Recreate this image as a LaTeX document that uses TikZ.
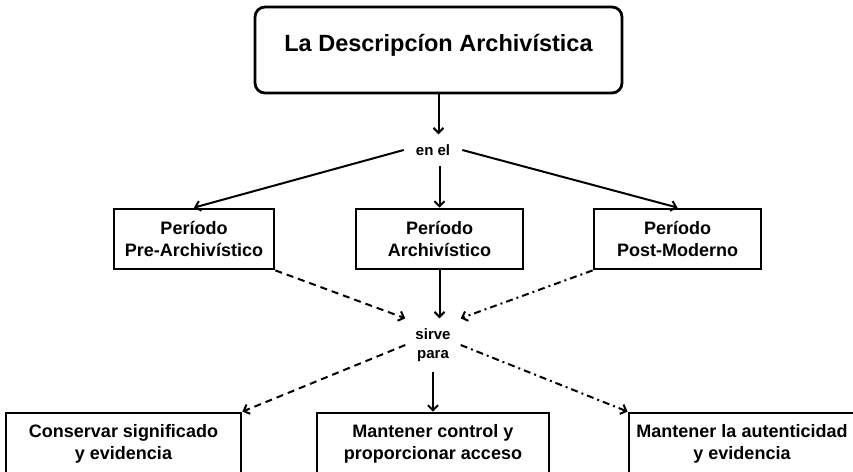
\documentclass[tikz,border=0pt]{standalone}
\usepackage{fontspec}
\setmainfont{Liberation Sans}
\usetikzlibrary{arrows.meta}

\tikzset{
  caja/.style={draw, line width=2.8pt, align=center, inner sep=0pt,
    font=\bfseries\fontsize{18}{22}\selectfont},
  nota/.style={align=center, inner sep=10pt,
    font=\bfseries\fontsize{15}{19}\selectfont},
  flecha/.style={line width=2pt, -{Straight Barb[length=5pt,width=10pt]}},
  raya/.style={dash pattern=on 7pt off 5pt},
  rayapunto/.style={dash pattern=on 7pt off 4pt on 2pt off 4pt}
}

\begin{document}
\begin{tikzpicture}[x=1pt,y=-1pt]
\useasboundingbox (0,0) rectangle (853,471);
\clip (0,0) rectangle (853,471);
\fill[white] (0,0) rectangle (853,471);
% arriba
\node[caja, rounded corners=10pt, minimum width=367pt, minimum height=86pt,
  text depth=15pt, font=\bfseries\fontsize{23.5}{28}\selectfont]
  (desc) at (438.5,50) {La Descripcíon Archivística};
\node[nota, inner xsep=12pt] (enel) at (433,150) {en el};
% periodos
\node[caja, minimum width=160pt, minimum height=60pt] (pre) at (194,239) {Período\\Pre-Archivístico};
\node[caja, minimum width=167pt, minimum height=60pt] (arch) at (439.5,239) {Período\\Archivístico};
\node[caja, minimum width=167pt, minimum height=60pt] (post) at (677.5,239) {Período\\Post-Moderno};
\node[nota] (sirve) at (433,345) {sirve\\para};
% abajo
\node[caja, minimum width=235pt, minimum height=61pt] (cons) at (123.5,443.5) {Conservar significado\\y evidencia};
\node[caja, minimum width=232pt, minimum height=61pt] (ctrl) at (433,443.5) {Mantener control y\\proporcionar acceso};
\node[caja, minimum width=226pt, minimum height=61pt] (aut) at (742,443.5) {Mantener la autenticidad\\y evidencia};
% flechas
\draw[flecha] (desc.south) -- (desc.south |- enel.north);
\draw[flecha] (enel.west) -- (pre.north);
\draw[flecha] (arch.north |- enel.south) -- (arch.north);
\draw[flecha] (enel.east) -- (post.north);
\draw[flecha, raya] (pre.south east) -- (sirve.north west);
\draw[flecha] (arch.south) -- (arch.south |- sirve.north);
\draw[flecha, rayapunto] (post.south west) -- (sirve.north east);
\draw[flecha, raya] (sirve.west) -- (cons.north east);
\draw[flecha] (sirve.south) -- (ctrl.north);
\draw[flecha, rayapunto] (sirve.east) -- (aut.north west);
\end{tikzpicture}
\end{document}
